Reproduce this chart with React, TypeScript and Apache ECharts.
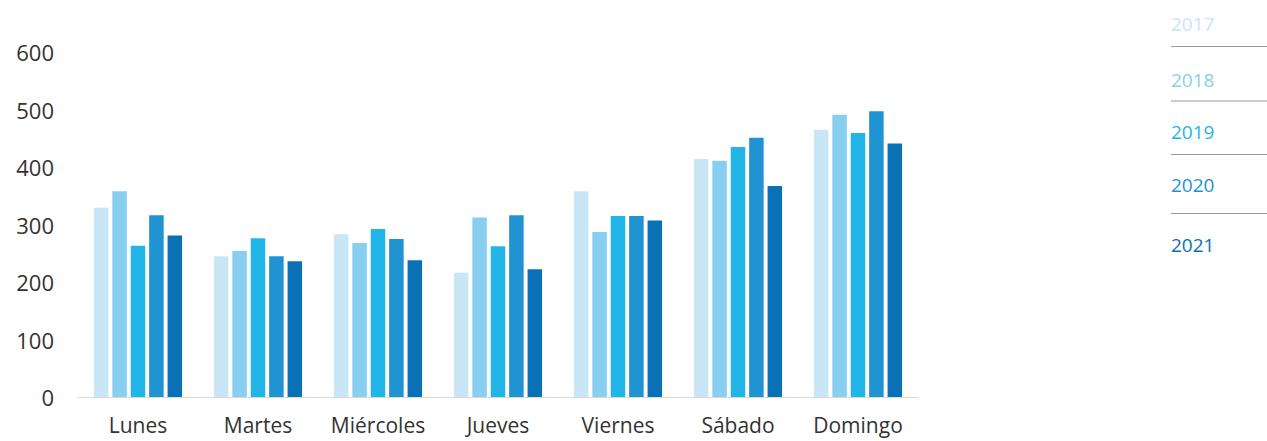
import React, { useEffect, useRef } from "react";
import * as echarts from "echarts";

const categories = ["Lunes", "Martes", "Miércoles", "Jueves", "Viernes", "Sábado", "Domingo"];
const years = ["2017", "2018", "2019", "2020", "2021"];
const colors = ["#c9e6f6", "#87cef0", "#22b5e8", "#2093d2", "#0a71b6"];
const values2017 = [329, 245, 283, 216, 358, 414, 465];
const values2018 = [358, 254, 268, 312, 287, 411, 491];
const values2019 = [263, 276, 292, 262, 315, 435, 459];
const values2020 = [316, 245, 275, 316, 315, 451, 497];
const values2021 = [281, 236, 238, 222, 307, 367, 441];
const seriesValues = [values2017, values2018, values2019, values2020, values2021];
const yTicks = [0, 100, 200, 300, 400, 500, 600];

const legendTextY = [25, 81, 133, 186, 246];
const legendLineY = [46.5, 101, 154.5, 213.5];

export default function App() {
  const ref = useRef<HTMLDivElement>(null);
  useEffect(() => {
    if (!ref.current) return;
    const chart = echarts.init(ref.current, undefined, { renderer: "svg" });
    const font = "'Open Sans', 'Noto Sans', sans-serif";
    const graphic: any[] = [];
    years.forEach((y, i) => {
      graphic.push({
        type: "text",
        left: 1171,
        top: legendTextY[i] - 11,
        style: { text: y, fill: colors[i], font: `19px ${font}` },
      });
    });
    legendLineY.forEach((ly) => {
      graphic.push({
        type: "line",
        shape: { x1: 1171, y1: ly, x2: 1267, y2: ly },
        style: { stroke: "#9a9a9a", lineWidth: 1 },
      });
    });
    chart.setOption({
      animation: false,
      grid: { left: 78, right: 349, top: 52, bottom: 44, containLabel: false },
      xAxis: {
        type: "category",
        data: categories,
        axisLine: { lineStyle: { color: "#d9d9d9", width: 1 } },
        axisTick: { show: false },
        axisLabel: { interval: 0, color: "#333", fontSize: 21, fontFamily: font, margin: 17 },
      },
      yAxis: {
        type: "value",
        min: yTicks[0],
        max: yTicks[yTicks.length - 1],
        interval: 100,
        splitLine: { show: false },
        axisLine: { show: false },
        axisTick: { show: false },
        axisLabel: { color: "#333", fontSize: 22, fontFamily: font, margin: 24 },
      },
      graphic,
      series: years.map((y, i) => ({
        name: y,
        type: "bar",
        data: seriesValues[i],
        barWidth: 14.5,
        barGap: "27%",
        itemStyle: { color: colors[i] },
      })),
    });
    return () => chart.dispose();
  }, []);
  return <div ref={ref} style={{ width: 1267, height: 441, position: "absolute", left: 0, top: 0 }} />;
}
